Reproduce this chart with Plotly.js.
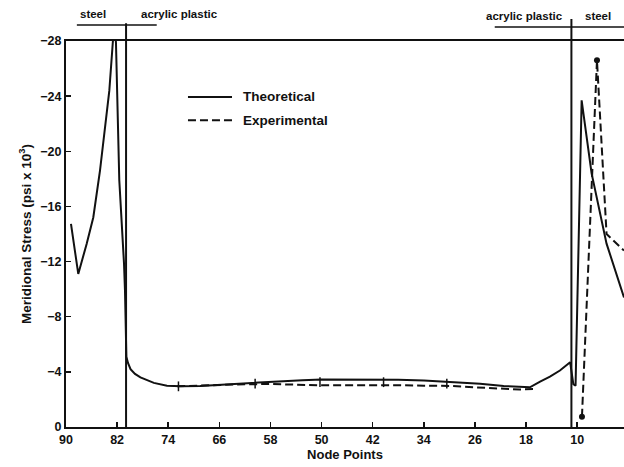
<!DOCTYPE html>
<html><head><meta charset="utf-8">
<script src="https://cdn.plot.ly/plotly-3.0.1.min.js"></script>
<style>html,body{margin:0;padding:0;background:#fff;overflow:hidden}</style>
</head><body>
<div id="chart" style="width:624px;height:467px"></div>
<script>
// Theoretical curve (solid)
const thNodes  = [89.22, 88.08, 86.76, 85.73, 84.68, 83.9, 83.22, 82.69, 82.4, 82.18, 81.66, 80.92, 80.77, 80.55, 80.3, 79.9, 79.2, 78.35, 77.3, 76.25, 74.2, 72.0, 69.0, 65.0, 61.0, 57.0, 53.0, 50.0, 46.0, 42.0, 38.0, 34.0, 30.4, 27.8, 25.2, 21.5, 17.4, 15.8, 14.26, 12.7, 11.1, 10.6, 10.25, 9.3, 7.74, 5.4, 2.67];
const thValues = [-14.74, -11.1, -13.3, -15.2, -18.6, -21.5, -24.4, -27.8, -29.5, -27.85, -17.9, -11.85, -9.9, -5.1, -4.65, -4.2, -3.85, -3.6, -3.38, -3.2, -3.0, -2.95, -2.98, -3.08, -3.2, -3.32, -3.4, -3.44, -3.45, -3.44, -3.42, -3.38, -3.29, -3.22, -3.14, -2.98, -2.88, -3.3, -3.65, -4.1, -4.7, -3.1, -3.0, -23.7, -18.4, -13.3, -9.4];
// Experimental curve (dashed); null = gap
const exNodes  = [72.6, 70.0, 66.0, 62.0, 58.0, 54.0, 50.0, 46.0, 42.0, 38.0, 34.0, 30.0, 26.0, 22.0, 19.0, 16.8, null, 9.25, 6.9, 5.4, 2.67];
const exValues = [-2.95, -3.0, -3.05, -3.1, -3.12, -3.05, -3.02, -3.02, -3.05, -3.03, -3.0, -2.98, -2.88, -2.8, -2.72, -2.75, null, -0.75, -26.6, -14.0, -12.8];
// Measured points drawn as dots
const dotNodes  = [9.25, 6.9];
const dotValues = [-0.75, -26.6];
// Small vertical marks on the flat part
const markNodes  = [72.4, 60.4, 50.25, 40.3, 30.4];
const markValues = [-2.95, -3.15, -3.25, -3.25, -3.15];
// Material boundaries (node positions)
const boundaryNodes = [80.6, 10.9];
const regionLabels = ['steel', 'acrylic plastic', 'acrylic plastic', 'steel'];
const seriesNames = ['Theoretical', 'Experimental'];
const xTickVals = [90, 82, 74, 66, 58, 50, 42, 34, 26, 18, 10, 2];
const yTickVals = [0, -4, -8, -12, -16, -20, -24, -28];

const F = {family: 'Liberation Sans, Arial, sans-serif', color: '#111', weight: 700};
const lineCol = '#111';
const dashStyle = '8px,4px';
const f = (s) => Object.assign({}, F, {size: s});

const traces = [
  {x: thNodes, y: thValues, mode: 'lines', name: seriesNames[0], showlegend: false,
   line: {color: lineCol, width: 2}},
  {x: exNodes, y: exValues, mode: 'lines', name: seriesNames[1], connectgaps: false, showlegend: false,
   line: {color: lineCol, width: 2, dash: dashStyle}},
  {x: dotNodes, y: dotValues, mode: 'markers', showlegend: false,
   marker: {color: lineCol, size: 6}},
  {x: markNodes, y: markValues, mode: 'markers', showlegend: false,
   marker: {symbol: 'line-ns', size: 7, line: {color: lineCol, width: 1.5}}}
];

const shapes = [
  // vertical boundary lines
  {type: 'line', xref: 'x', yref: 'paper', x0: boundaryNodes[0], x1: boundaryNodes[0], y0: 0, y1: 1.046, line: {color: lineCol, width: 2}},
  {type: 'line', xref: 'x', yref: 'paper', x0: boundaryNodes[1], x1: boundaryNodes[1], y0: 0, y1: 1.057, line: {color: lineCol, width: 2}},
  // bracket lines above plot
  {type: 'line', xref: 'x', yref: 'paper', x0: 88.3, x1: 75.8, y0: 1.0415, y1: 1.0415, line: {color: lineCol, width: 1.5}},
  {type: 'line', xref: 'x', yref: 'paper', x0: 22.9, x1: 2.67, y0: 1.036, y1: 1.036, line: {color: lineCol, width: 1.5}},
  // legend samples
  {type: 'line', xref: 'paper', yref: 'paper', x0: 0.2186, x1: 0.2975, y0: 0.855, y1: 0.855, line: {color: lineCol, width: 2}},
  {type: 'line', xref: 'paper', yref: 'paper', x0: 0.2186, x1: 0.2975, y0: 0.795, y1: 0.795, line: {color: lineCol, width: 2, dash: dashStyle}}
];

const labelPos = [[85.8, 1.071], [72.2, 1.071], [18.2, 1.066], [6.75, 1.064]];
const annotations = regionLabels.map((t, i) => ({
  text: t, xref: 'x', yref: 'paper', x: labelPos[i][0], y: labelPos[i][1],
  showarrow: false, xanchor: 'center', yanchor: 'middle', font: f(11.5)
}));
annotations.push({text: seriesNames[0], xref: 'paper', yref: 'paper', x: 0.314, y: 0.855,
  showarrow: false, xanchor: 'left', yanchor: 'middle', font: f(13.5)});
annotations.push({text: seriesNames[1], xref: 'paper', yref: 'paper', x: 0.314, y: 0.795,
  showarrow: false, xanchor: 'left', yanchor: 'middle', font: f(13.5)});

const layout = {
  width: 624, height: 467,
  margin: {l: 66, r: 0, t: 41, b: 40},
  paper_bgcolor: '#fff', plot_bgcolor: '#fff',
  showlegend: false,
  xaxis: {range: [90, 2.67], tickvals: xTickVals, ticks: 'inside', ticklen: 5, tickwidth: 1.5, tickcolor: lineCol,
          showline: true, linewidth: 2, linecolor: lineCol, mirror: true, showgrid: false, zeroline: false,
          tickfont: f(12.5),
          title: {text: 'Node Points', font: f(13), standoff: 1}},
  yaxis: {range: [0, -28], tickvals: yTickVals, ticks: 'inside', ticklen: 5, tickwidth: 1.5, tickcolor: lineCol,
          showline: true, linewidth: 2, linecolor: lineCol, showgrid: false, zeroline: false,
          tickfont: f(12.5),
          title: {text: 'Meridional Stress (psi x 10<sup>3</sup>)', font: f(13.5), standoff: 6}},
  shapes: shapes,
  annotations: annotations
};

Plotly.newPlot('chart', traces, layout, {displayModeBar: false, staticPlot: true});
</script>
</body></html>
